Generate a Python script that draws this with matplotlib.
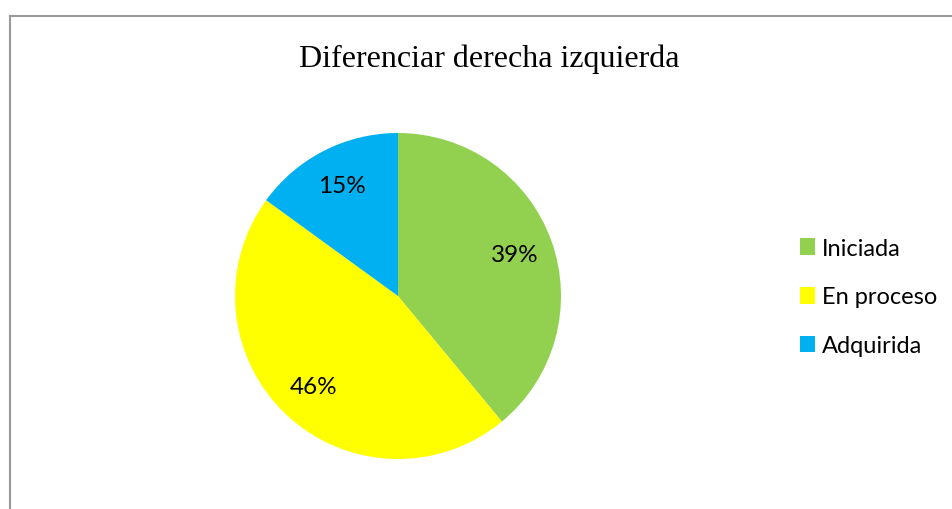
import matplotlib.pyplot as plt
from matplotlib.lines import Line2D

# Data
categorias = ['Iniciada', 'En proceso', 'Adquirida']
valores = [39, 46, 15]
colores = ['#92D050', '#FFFF00', '#00B0F0']
titulo = 'Diferenciar derecha izquierda'

W, H = 952, 510
fig = plt.figure(figsize=(W / 100, H / 100), dpi=100)

# marco gris (arriba e izquierda)
fig.add_artist(Line2D([9.5 / W, 9.5 / W], [0, 1 - 16.5 / H], transform=fig.transFigure,
                      color='#9a9a9a', lw=1.5))
fig.add_artist(Line2D([9.5 / W, 1], [1 - 16.5 / H, 1 - 16.5 / H], transform=fig.transFigure,
                      color='#9a9a9a', lw=1.5))

# pie: centro (398, 297) px, radio 163 px
cx, cy, r = 398, 297, 163
ax = fig.add_axes([(cx - r) / W, (H - cy - r) / H, 2 * r / W, 2 * r / H])
wedges, texts, autotexts = ax.pie(
    valores, colors=colores, startangle=90, counterclock=False,
    autopct='%1.0f%%', pctdistance=0.76, radius=1,
    wedgeprops=dict(linewidth=0),
    textprops=dict(fontsize=17.5, family='Lato', color='black'))
ax.set_xlim(-1, 1)
ax.set_ylim(-1, 1)

fig.text(489 / W, 1 - 59 / H, titulo, ha='center', va='center',
         fontsize=23, family='Liberation Serif')

fig.legend(wedges, categorias, loc='center left', bbox_to_anchor=(800 / W, 1 - 298 / H),
           frameon=False, prop=dict(family='Lato', size=17), borderpad=0, borderaxespad=0,
           handlelength=0.62, handleheight=0.7, handletextpad=0.3, labelspacing=1.18)

fig.savefig('out.png', dpi=100)
